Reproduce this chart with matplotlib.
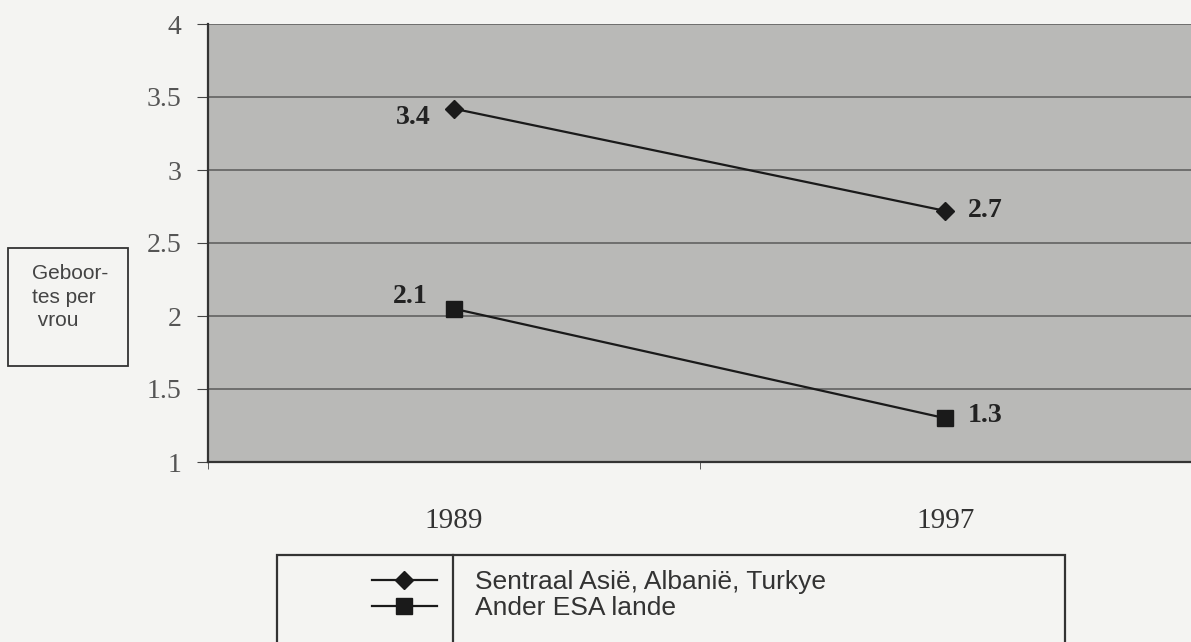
import matplotlib.pyplot as plt
from matplotlib.patches import Rectangle
from matplotlib.lines import Line2D
from matplotlib.ticker import FuncFormatter

years = ["1989", "1997"]
sentraal = [3.42, 2.72]
ander = [2.05, 1.30]
sentraal_labels = ["3.4", "2.7"]
ander_labels = ["2.1", "1.3"]
series_names = ["Sentraal Asië, Albanië, Turkye", "Ander ESA lande"]
y_ticks = [1, 1.5, 2, 2.5, 3, 3.5, 4]

W, H = 1191, 642
fig = plt.figure(figsize=(W / 100, H / 100), dpi=100)
fig.patch.set_facecolor("#f4f4f2")

ax = fig.add_axes([208 / W, 1 - 462 / H, 1 - 208 / W, (462 - 24) / H])
ax.set_facecolor("#b9b9b7")
x = list(range(len(years)))

ax.plot(x, sentraal, color="#1a1a1a", lw=1.6, marker="D", ms=9,
        mfc="#1a1a1a", mec="#1a1a1a", label=series_names[0], zorder=3)
ax.plot(x, ander, color="#1a1a1a", lw=1.6, marker="s", ms=11,
        mfc="#1a1a1a", mec="#1a1a1a", label=series_names[1], zorder=3)

# data labels
serif = "Liberation Serif"
lab_kw = dict(textcoords="offset points", va="center", fontsize=20,
              family=serif, color="#222222", fontweight="bold")
ax.annotate(sentraal_labels[0], (x[0], sentraal[0]), xytext=(-17, -6),
            ha="right", **lab_kw)
ax.annotate(sentraal_labels[1], (x[1], sentraal[1]), xytext=(16, 0),
            ha="left", **lab_kw)
ax.annotate(ander_labels[0], (x[0], ander[0]), xytext=(-31, 9),
            ha="center", **lab_kw)
ax.annotate(ander_labels[1], (x[1], ander[1]), xytext=(16, 2),
            ha="left", **lab_kw)

ax.set_xlim(-0.5, len(years) - 0.5)
ax.set_ylim(1, 4)
ax.set_yticks(y_ticks)
ax.yaxis.set_major_formatter(FuncFormatter(lambda v, p: ("%g" % v)))
ax.set_xticks(x)
ax.set_xticklabels(years)
ax.set_xticks([-0.5, 0.5, 1.5], minor=True)
ax.tick_params(axis="x", which="major", length=0, pad=33,
               labelsize=21, labelcolor="#333333")
ax.tick_params(axis="x", which="minor", length=5, direction="out", color="#444444")
ax.tick_params(axis="y", length=8, direction="out", pad=11, color="#444444",
               labelsize=20, labelcolor="#555555")
for lab in ax.get_xticklabels() + ax.get_yticklabels():
    lab.set_family(serif)

ax.grid(axis="y", color="#5a5a5a", lw=1.1)
ax.set_axisbelow(True)
for s in ["top", "right"]:
    ax.spines[s].set_visible(False)
ax.spines["left"].set_color("#333333")
ax.spines["bottom"].set_color("#333333")
ax.spines["left"].set_linewidth(1.6)
ax.spines["bottom"].set_linewidth(1.6)

# y label in its own box
fig.patches.append(Rectangle((8 / W, 1 - 366 / H), 120 / W, 118 / H,
                             transform=fig.transFigure, fill=False,
                             ec="#333333", lw=1.3))
fig.text(32 / W, 1 - 264 / H, "Geboor-\ntes per\n vrou", ha="left", va="top",
         fontsize=15, family="Liberation Sans", color="#444444", linespacing=1.3)

# legend box with divider
fig.patches.append(Rectangle((277 / W, -0.05), (1065 - 277) / W, 0.05 + 1 - 555 / H,
                             transform=fig.transFigure, fill=False,
                             ec="#333333", lw=1.6))
fig.lines.append(Line2D([453 / W, 453 / W], [-0.05, 1 - 555 / H],
                        transform=fig.transFigure, color="#333333", lw=1.6))
leg = fig.legend(loc="upper left", bbox_to_anchor=(372 / W, 1 - 570 / H),
                 frameon=False, borderpad=0, borderaxespad=0,
                 handlelength=2.46, handletextpad=1.44, labelspacing=0.08,
                 prop={"family": "Liberation Sans", "size": 19})
for t in leg.get_texts():
    t.set_color("#333333")

fig.savefig("out.png", dpi=100, facecolor=fig.get_facecolor())
